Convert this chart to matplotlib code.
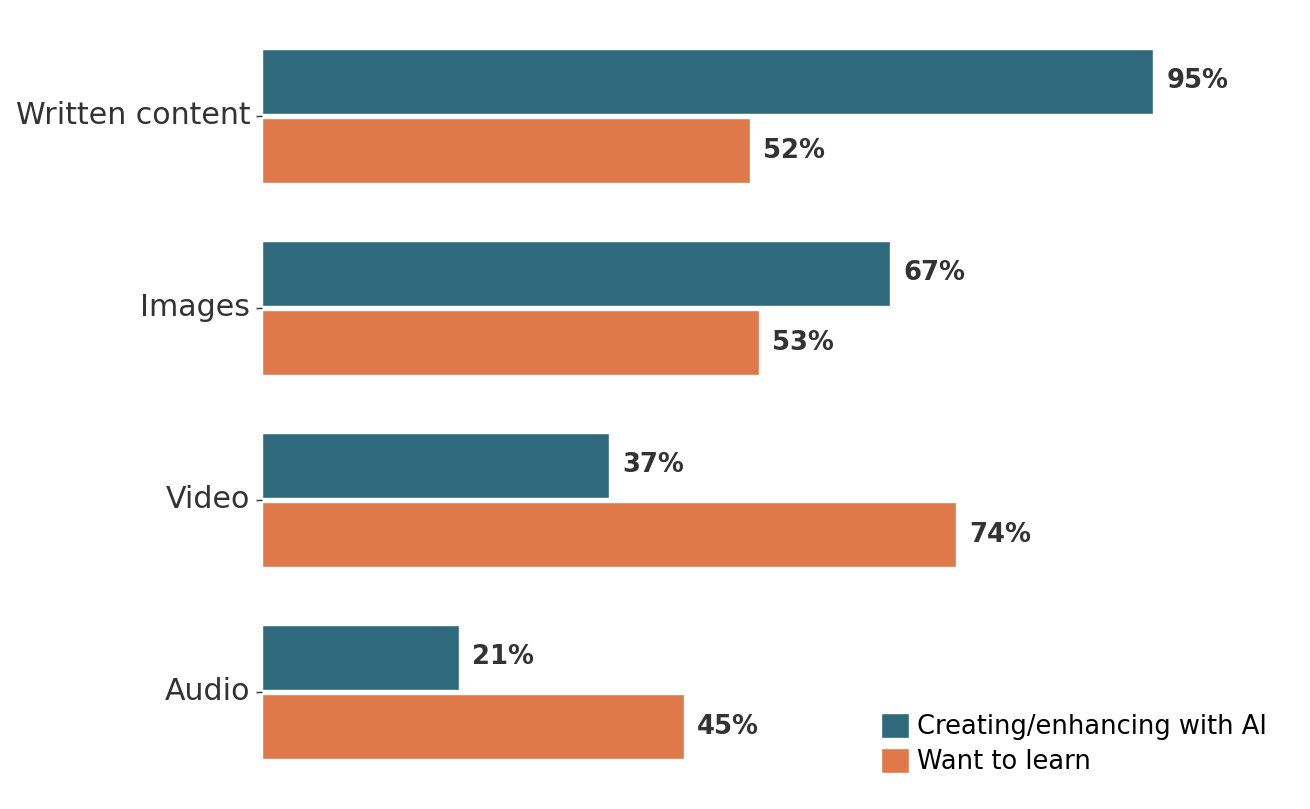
import matplotlib.pyplot as plt
import numpy as np

categories = ['Written content', 'Images', 'Video', 'Audio']
creating = [95, 67, 37, 21]
want_learn = [52, 53, 74, 45]
series_names = ['Creating/enhancing with AI', 'Want to learn']

teal = '#2f6a7c'
orange = '#e0794a'
text_col = '#333333'

fig = plt.figure(figsize=(13.1, 8.09), dpi=100)
ax = fig.add_axes([262 / 1310, 21 / 809, 938 / 1310, 768 / 809])

y = np.arange(len(categories))
off = 0.18
h = 0.335
b1 = ax.barh(y - off, creating, height=h, color=teal, edgecolor='white', linewidth=1, label=series_names[0])
b2 = ax.barh(y + off, want_learn, height=h, color=orange, edgecolor='white', linewidth=1, label=series_names[1])

# value labels
for bars, vals in [(b1, creating), (b2, want_learn)]:
    for bar, v in zip(bars, vals):
        ax.annotate(f'{v}%', xy=(bar.get_width(), bar.get_y() + bar.get_height() / 2),
                    xytext=(9.5, 0), textcoords='offset points', va='center', ha='left',
                    fontsize=18.6, fontweight='bold', color=text_col, annotation_clip=False)

ax.set_xlim(0, 100)
ax.set_ylim(3.5, -0.5)
ax.set_yticks(y)
ax.set_yticklabels(categories, fontsize=21.6, color=text_col, va='bottom')
for lbl in ax.get_yticklabels():
    lbl.set_va('center')
ax.set_xticks([])
ax.tick_params(axis='y', length=4.5, width=1, color=text_col, pad=4)
for s in ax.spines.values():
    s.set_visible(False)

ax.legend(loc='lower right', bbox_to_anchor=(1267 / 1310, 34 / 809), bbox_transform=fig.transFigure,
          frameon=False, fontsize=18.5, handlelength=1.1, handleheight=1.1, handletextpad=0.3,
          labelspacing=0.3, borderpad=0, borderaxespad=0)

fig.savefig('out.png', dpi=100)
